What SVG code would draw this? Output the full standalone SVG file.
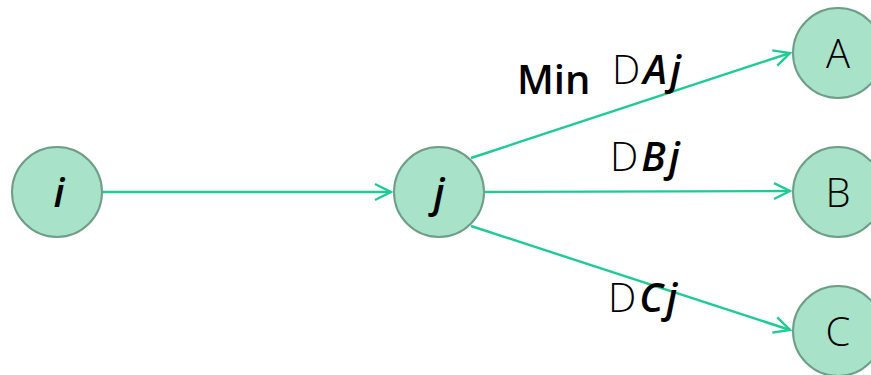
<svg xmlns="http://www.w3.org/2000/svg" width="871" height="375" viewBox="0 0 871 375">
  <defs>
    <marker id="arrow" viewBox="0 0 20 20" refX="18" refY="10" markerWidth="20" markerHeight="20" markerUnits="userSpaceOnUse" orient="auto">
      <path d="M2,2 L18,10 L2,18" fill="none" stroke="#1fcb95" stroke-width="2.4"/>
    </marker>
  </defs>
  <style>
    .node { fill: #a8e2c8; stroke: #6e9e88; stroke-width: 2; }
    .edge { stroke: #1fcb95; stroke-width: 2.4; fill: none; marker-end: url(#arrow); }
    text { font-family: "Open Sans", "Noto Sans", "DejaVu Sans", sans-serif; font-size: 40px; fill: #000; }
    .lbl { text-anchor: middle; }
    .bi { font-weight: 600; font-style: italic; }
    .sp { letter-spacing: 3px; }
    .d { font-weight: 300; }
  </style>
  <rect width="871" height="375" fill="#ffffff"/>

  <g id="connectors">
    <line class="edge" x1="103" y1="192" x2="391" y2="192"/>
    <line class="edge" x1="471" y1="158" x2="790" y2="53"/>
    <line class="edge" x1="485" y1="192" x2="790" y2="191"/>
    <line class="edge" x1="471" y1="226" x2="790" y2="330"/>
  </g>

  <g id="node-i">
    <circle class="node" cx="57" cy="192" r="45"/>
    <text class="lbl bi" x="59" y="207">i</text>
  </g>
  <g id="node-j">
    <circle class="node" cx="439" cy="192" r="45"/>
    <text class="lbl bi" x="439" y="207">j</text>
  </g>
  <g id="node-A">
    <circle class="node" cx="838" cy="53" r="45"/>
    <text class="lbl d" x="838" y="68">A</text>
  </g>
  <g id="node-B">
    <circle class="node" cx="838" cy="192" r="45"/>
    <text class="lbl d" x="838" y="207">B</text>
  </g>
  <g id="node-C">
    <circle class="node" cx="838" cy="331" r="45"/>
    <text class="lbl d" x="838" y="346">C</text>
  </g>

  <g id="labels">
    <text x="517" y="94" font-weight="600">Min</text>
    <text x="612" y="84"><tspan class="d">D</tspan><tspan class="bi sp" dx="3">Aj</tspan></text>
    <text x="610" y="171"><tspan class="d">D</tspan><tspan class="bi sp" dx="3">Bj</tspan></text>
    <text x="608" y="312"><tspan class="d">D</tspan><tspan class="bi sp" dx="3">Cj</tspan></text>
  </g>
</svg>
